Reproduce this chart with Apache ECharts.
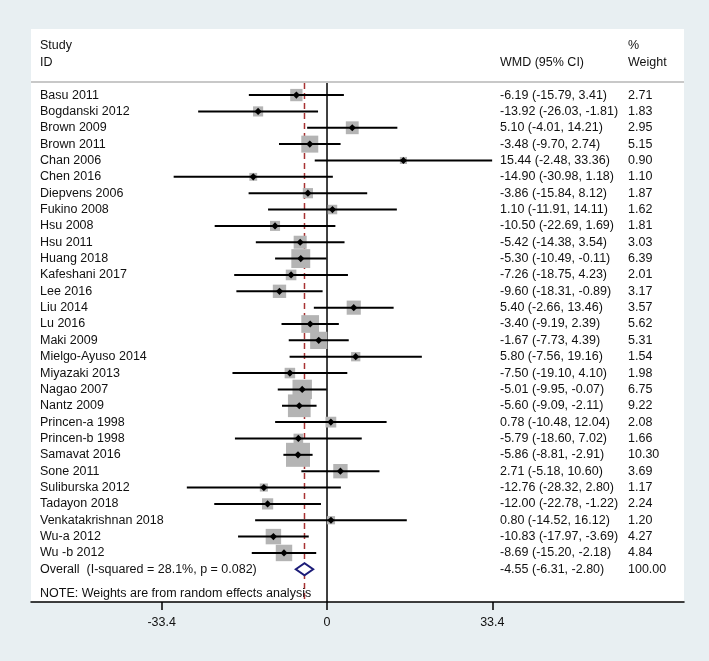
<!DOCTYPE html>
<html><head><meta charset="utf-8">
<script src="https://cdn.jsdelivr.net/npm/echarts@6/dist/echarts.min.js"></script>
<style>html,body{margin:0;padding:0;background:#e8eff2}#c{width:709px;height:661px}</style>
</head><body><div id="c"></div>
<script>
const studies = ["Basu 2011","Bogdanski 2012","Brown 2009","Brown 2011","Chan 2006","Chen 2016","Diepvens 2006","Fukino 2008","Hsu 2008","Hsu 2011","Huang 2018","Kafeshani 2017","Lee 2016","Liu 2014","Lu 2016","Maki 2009","Mielgo-Ayuso 2014","Miyazaki 2013","Nagao 2007","Nantz 2009","Princen-a 1998","Princen-b 1998","Samavat 2016","Sone 2011","Suliburska 2012","Tadayon 2018","Venkatakrishnan 2018","Wu-a 2012","Wu -b 2012"];
const wmd = [-6.19,-13.92,5.10,-3.48,15.44,-14.90,-3.86,1.10,-10.50,-5.42,-5.30,-7.26,-9.60,5.40,-3.40,-1.67,5.80,-7.50,-5.01,-5.60,0.78,-5.79,-5.86,2.71,-12.76,-12.00,0.80,-10.83,-8.69];
const lower = [-15.79,-26.03,-4.01,-9.70,-2.48,-30.98,-15.84,-11.91,-22.69,-14.38,-10.49,-18.75,-18.31,-2.66,-9.19,-7.73,-7.56,-19.10,-9.95,-9.09,-10.48,-18.60,-8.81,-5.18,-28.32,-22.78,-14.52,-17.97,-15.20];
const upper = [3.41,-1.81,14.21,2.74,33.36,1.18,8.12,14.11,1.69,3.54,-0.11,4.23,-0.89,13.46,2.39,4.39,19.16,4.10,-0.07,-2.11,12.04,7.02,-2.91,10.60,2.80,-1.22,16.12,-3.69,-2.18];
const weights = [2.71,1.83,2.95,5.15,0.90,1.10,1.87,1.62,1.81,3.03,6.39,2.01,3.17,3.57,5.62,5.31,1.54,1.98,6.75,9.22,2.08,1.66,10.30,3.69,1.17,2.24,1.20,4.27,4.84];
const overallLabel = "Overall  (I-squared = 28.1%, p = 0.082)";
const overall = [-4.55, -6.31, -2.80, 100.00];
const xTicks = [-33.4, 0, 33.4];
const headerLeft = ["Study", "ID"];
const headerMid = "WMD (95% CI)";
const headerRight = ["%", "Weight"];
const noteText = "NOTE: Weights are from random effects analysis";

const FONT = '"Liberation Sans", Arial, sans-serif';
const FS = 12.5;
const TXT = '#111';
const X_LABEL = 40, X_WMD = 500, X_W = 628;

function fmt(v){ return v.toFixed(2); }
function txt(x, y, s){
  return {type:'text', style:{x:x, y:y, text:s, fill:TXT, font: FS + 'px ' + FONT, textAlign:'left', textVerticalAlign:'middle'}};
}

const studyData = studies.map((s,i)=>[wmd[i], i, lower[i], upper[i], weights[i]]);

const chart = echarts.init(document.getElementById('c'), null, {renderer:'canvas'});
chart.setOption({
  animation:false,
  backgroundColor:'#e8eff2',
  grid:{left:31, right:25, top:29, bottom:59, show:true, backgroundColor:'#ffffff', borderWidth:0},
  xAxis:{type:'value', min:-59.8, max:72.12, splitLine:{show:false},
    axisLine:{show:true, onZero:false, lineStyle:{color:'#000', width:1.5}},
    axisTick:{show:true, customValues:xTicks, length:8, lineStyle:{color:'#000', width:1.5}},
    axisLabel:{customValues:xTicks, color:TXT, fontFamily:FONT, fontSize:FS, margin:14,
      formatter:v=> v===0 ? '0' : v.toFixed(1)}},
  yAxis:{type:'value', inverse:true, min:-4.04, max:31.0, show:false},
  series:[
    { // reference lines, header, note
      type:'custom', silent:true, data:[[0,0]], z:1,
      renderItem:function(params, api){
        const cs = params.coordSys;
        const yHdr = api.coord([0,-0.8])[1];
        const yBot = cs.y + cs.height;
        const x0 = api.coord([0,0])[0];
        const xo = api.coord([overall[0],0])[0];
        const yS = api.coord([0,-3])[1], yI = api.coord([0,-2])[1];
        const yN = api.coord([0,30.5])[1];
        return {type:'group', children:[
          {type:'line', shape:{x1:cs.x, y1:yHdr, x2:cs.x+cs.width, y2:yHdr}, style:{stroke:'#c8c8c8', lineWidth:2}},
          {type:'line', shape:{x1:x0, y1:yHdr+1, x2:x0, y2:yBot}, style:{stroke:'#000', lineWidth:1.5}},
          {type:'line', shape:{x1:xo, y1:yHdr+1, x2:xo, y2:yBot}, style:{stroke:'#a83232', lineWidth:1.5, lineDash:[6,4]}},
          txt(X_LABEL, yS, headerLeft[0]), txt(X_LABEL, yI, headerLeft[1]),
          txt(X_WMD, yI, headerMid),
          txt(X_W, yS, headerRight[0]), txt(X_W, yI, headerRight[1]),
          txt(X_LABEL, yN, noteText)
        ]};
      }
    },
    { // studies
      type:'custom', silent:true, data:studyData, z:2,
      encode:{x:[0,2,3], y:1},
      renderItem:function(params, api){
        const i = api.value(1);
        const p = api.coord([api.value(0), i]);
        const l = api.coord([api.value(2), i]);
        const u = api.coord([api.value(3), i]);
        const side = 7.48*Math.sqrt(api.value(4));
        const r = 3.6;
        return {type:'group', children:[
          {type:'rect', shape:{x:p[0]-side/2, y:p[1]-side/2, width:side, height:side}, style:{fill:'#b4b4b4'}},
          {type:'line', shape:{x1:l[0], y1:p[1], x2:u[0], y2:p[1]}, style:{stroke:'#000', lineWidth:2}},
          {type:'polygon', shape:{points:[[p[0],p[1]-r],[p[0]+r,p[1]],[p[0],p[1]+r],[p[0]-r,p[1]]]}, style:{fill:'#000'}},
          txt(X_LABEL, p[1], studies[i]),
          txt(X_WMD, p[1], fmt(api.value(0)) + ' (' + fmt(api.value(2)) + ', ' + fmt(api.value(3)) + ')'),
          txt(X_W, p[1], fmt(api.value(4)))
        ]};
      }
    },
    { // overall
      type:'custom', silent:true, data:[[overall[0], studies.length, overall[1], overall[2], overall[3]]], z:3,
      encode:{x:[0,2,3], y:1},
      renderItem:function(params, api){
        const i = api.value(1);
        const p = api.coord([api.value(0), i]);
        const l = api.coord([api.value(2), i]);
        const u = api.coord([api.value(3), i]);
        const h = 6;
        return {type:'group', children:[
          {type:'polygon', shape:{points:[[l[0],p[1]],[p[0],p[1]-h],[u[0],p[1]],[p[0],p[1]+h]]}, style:{fill:'#fff', stroke:'#1c1c78', lineWidth:2}},
          txt(X_LABEL, p[1], overallLabel),
          txt(X_WMD, p[1], fmt(api.value(0)) + ' (' + fmt(api.value(2)) + ', ' + fmt(api.value(3)) + ')'),
          txt(X_W, p[1], fmt(api.value(4)))
        ]};
      }
    }
  ]
});
</script></body></html>
